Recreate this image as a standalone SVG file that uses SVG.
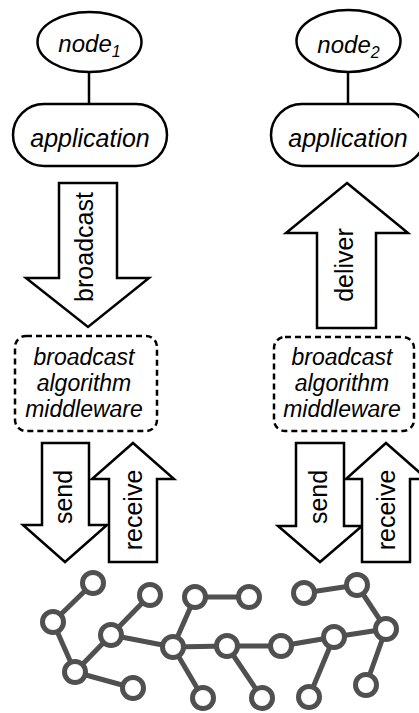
<svg xmlns="http://www.w3.org/2000/svg" width="419" height="713" viewBox="0 0 419 713">
<style>
text{font-family:"Liberation Sans",Arial,sans-serif;fill:#000}
.it{font-style:italic}
.shape{fill:#fff;stroke:#000;stroke-width:2.5}
.arrow{fill:#fff;stroke:#000;stroke-width:2.5;stroke-linejoin:miter}
.mw{fill:#fff;stroke:#000;stroke-width:2.5;stroke-dasharray:6 4}
.edge{stroke:#505050;stroke-width:5;fill:none}
.nd{fill:#fff;stroke:#505050;stroke-width:5}
</style>
<rect width="419" height="713" fill="#fff"/>
<g id="connectors">
<line x1="89" y1="72" x2="89" y2="104" stroke="#000" stroke-width="2.5"/>
<line x1="348" y1="72" x2="348" y2="104" stroke="#000" stroke-width="2.5"/>
</g>
<g id="node1">
<ellipse class="shape" cx="89.5" cy="42" rx="52" ry="30"/>
<text class="it" x="89.5" y="52" font-size="24" text-anchor="middle">node<tspan font-size="16" dy="5">1</tspan></text>
</g>
<g id="node2">
<ellipse class="shape" cx="348.5" cy="41" rx="52" ry="31"/>
<text class="it" x="348.5" y="53" font-size="24" text-anchor="middle">node<tspan font-size="16" dy="5">2</tspan></text>
</g>
<g id="app1">
<rect class="shape" x="13" y="104" width="154" height="62" rx="31"/>
<text class="it" x="90" y="147" font-size="25" text-anchor="middle">application</text>
</g>
<g id="app2">
<rect class="shape" x="271" y="104" width="154" height="62" rx="31"/>
<text class="it" x="348" y="147" font-size="25" text-anchor="middle">application</text>
</g>
<g id="broadcast-arrow">
<polygon class="arrow" points="59,183 117,183 117,278 149,278 88,327 26,278 59,278"/>
<text transform="translate(93,247) rotate(-90)" font-size="25" text-anchor="middle">broadcast</text>
</g>
<g id="deliver-arrow">
<polygon class="arrow" points="347,183 408,233 376,233 376,328 317,328 317,233 286,233"/>
<text transform="translate(353,265) rotate(-90)" font-size="25" text-anchor="middle">deliver</text>
</g>
<g id="middleware1">
<rect class="mw" x="15" y="336" width="142" height="95" rx="11"/>
<text class="it" font-size="23" text-anchor="middle"><tspan x="84" y="365">broadcast</tspan><tspan x="84" y="391">algorithm</tspan><tspan x="84" y="417">middleware</tspan></text>
</g>
<g id="middleware2">
<rect class="mw" x="274" y="337" width="140" height="94" rx="11"/>
<text class="it" font-size="23" text-anchor="middle"><tspan x="342" y="365">broadcast</tspan><tspan x="342" y="391">algorithm</tspan><tspan x="342" y="417">middleware</tspan></text>
</g>
<g id="send1">
<polygon class="arrow" points="42,443 89,443 89,525 107,525 65,562 23,525 42,525"/>
<text transform="translate(72,497) rotate(-90)" font-size="25" text-anchor="middle">send</text>
</g>
<g id="receive1">
<polygon class="arrow" points="133,443 174,479 157,479 157,562 109,562 109,479 92,479"/>
<text transform="translate(142,510) rotate(-90)" font-size="25" text-anchor="middle">receive</text>
</g>
<g id="send2">
<polygon class="arrow" points="296,443 344,443 344,526 362,526 320,562 278,526 296,526"/>
<text transform="translate(327,497) rotate(-90)" font-size="25" text-anchor="middle">send</text>
</g>
<g id="receive2">
<polygon class="arrow" points="386,443 427,479 410,479 410,562 362,562 362,479 346,479"/>
<text transform="translate(395,510) rotate(-90)" font-size="25" text-anchor="middle">receive</text>
</g>
<g id="network">
<g class="edge">
<line x1="93" y1="583" x2="53" y2="622"/>
<line x1="53" y1="622" x2="75" y2="672"/>
<line x1="75" y1="672" x2="133" y2="688"/>
<line x1="75" y1="672" x2="111" y2="635"/>
<line x1="111" y1="635" x2="150" y2="595"/>
<line x1="111" y1="635" x2="173" y2="647"/>
<line x1="173" y1="647" x2="195" y2="597"/>
<line x1="173" y1="647" x2="203" y2="698"/>
<line x1="173" y1="647" x2="227" y2="646"/>
<line x1="195" y1="597" x2="249" y2="597"/>
<line x1="227" y1="646" x2="262" y2="698"/>
<line x1="227" y1="646" x2="281" y2="646"/>
<line x1="281" y1="646" x2="334" y2="637"/>
<line x1="334" y1="637" x2="309" y2="697"/>
<line x1="334" y1="637" x2="386" y2="629"/>
<line x1="386" y1="629" x2="357" y2="585"/>
<line x1="386" y1="629" x2="366" y2="685"/>
<line x1="357" y1="585" x2="304" y2="593"/>
</g>
<g class="nd">
<circle cx="93" cy="583" r="10.5"/>
<circle cx="53" cy="622" r="10.5"/>
<circle cx="75" cy="672" r="10.5"/>
<circle cx="133" cy="688" r="10.5"/>
<circle cx="111" cy="635" r="10.5"/>
<circle cx="150" cy="595" r="10.5"/>
<circle cx="173" cy="647" r="10.5"/>
<circle cx="195" cy="597" r="10.5"/>
<circle cx="203" cy="698" r="10.5"/>
<circle cx="249" cy="597" r="10.5"/>
<circle cx="227" cy="646" r="10.5"/>
<circle cx="262" cy="698" r="10.5"/>
<circle cx="281" cy="646" r="10.5"/>
<circle cx="334" cy="637" r="10.5"/>
<circle cx="309" cy="697" r="10.5"/>
<circle cx="386" cy="629" r="10.5"/>
<circle cx="357" cy="585" r="10.5"/>
<circle cx="366" cy="685" r="10.5"/>
<circle cx="304" cy="593" r="10.5"/>
</g>
</g>
</svg>
